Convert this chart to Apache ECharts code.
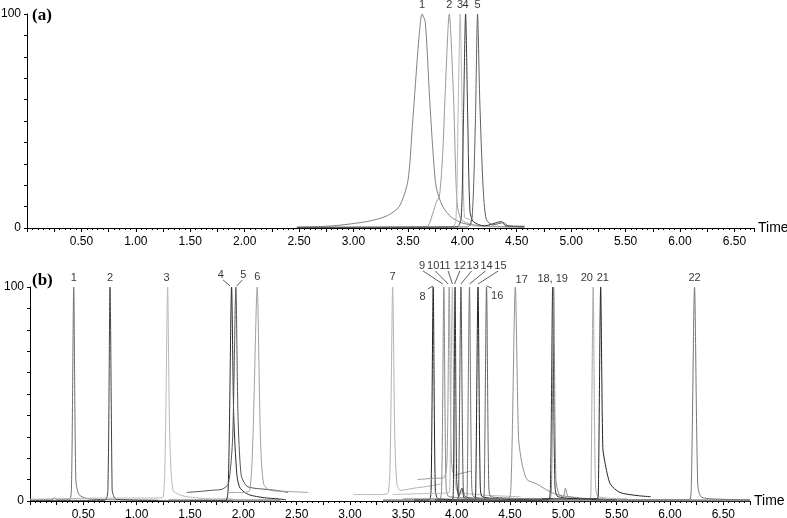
<!DOCTYPE html>
<html><head><meta charset="utf-8">
<script src="https://cdn.jsdelivr.net/npm/echarts@6/dist/echarts.min.js"></script>
<style>html,body{margin:0;padding:0;background:#fff}#c{width:787px;height:518px}</style>
</head><body><div id="c"></div><script>
// ---------- Panel (a) traces: [time (min), intensity (%)] ----------
const a1 = [[2.48,0.3],[2.81,1],[3.12,3],[3.30,5.5],[3.42,10],[3.50,22],[3.54,47],[3.60,88],[3.63,100],[3.66,96],[3.70,60],[3.73,36],[3.76,19],[3.82,10],[3.90,5],[4.00,2.3],[4.15,1],[4.40,0.6],[4.57,0.5]];
const a2 = [[2.48,0.3],[3.40,0.4],[3.67,0.5],[3.73,7],[3.76,12],[3.79,15],[3.82,35],[3.84,60],[3.88,100],[3.92,60],[3.95,13],[3.99,4],[4.10,1.5],[4.30,0.8],[4.57,0.5]];
const a3 = [[2.48,0.2],[3.90,0.4],[3.94,3],[3.96,50],[3.98,100],[4.00,50],[4.02,5],[4.07,4],[4.10,1],[4.57,0.3]];
const a4 = [[2.48,0.3],[3.95,0.5],[3.99,5],[4.01,50],[4.03,100],[4.05,50],[4.07,8],[4.10,3],[4.20,1],[4.36,3],[4.40,1],[4.57,0.8]];
const a5 = [[2.48,0.3],[4.05,0.5],[4.09,5],[4.12,50],[4.14,100],[4.16,60],[4.19,20],[4.22,4],[4.28,1.5],[4.38,2.5],[4.42,1],[4.57,0.5]];
const tracesA = [a1, a2, a3, a4, a5];
const colorsA = ['#808080', '#9a9a9a', '#b8b8b8', '#3a3a3a', '#606060'];
const labelsA = [[3.63,104,'1'],[3.88,104,'2'],[3.98,104,'3'],[4.03,104,'4'],[4.14,104,'5']];

// ---------- Panel (b) traces ----------
const bBase1 = [[1.30,0.3],[2.35,0.3]];
const bBase2 = [[3.31,0.3],[6.75,0.3]];
const b1 = [[0.00,0.5],[0.20,0.5],[0.23,1.3],[0.27,0.5],[0.37,0.5],[0.39,10],[0.41,100],[0.43,10],[0.46,3],[0.55,1],[0.90,0.5],[1.20,0.3],[1.90,0.2]];
const b2 = [[0.00,0.3],[0.70,0.3],[0.73,5],[0.75,100],[0.77,5],[0.78,3],[0.80,1],[0.90,0.5],[1.20,0.3]];
const b3 = [[0.00,0.8],[0.78,1.4],[1.20,1.4],[1.25,2],[1.27,30],[1.29,100],[1.31,30],[1.34,5],[1.40,3],[1.47,2],[1.70,1],[1.90,1]];
const b4 = [[1.50,0],[1.83,0],[1.86,10],[1.89,100],[1.91,40],[1.94,12],[1.97,6],[2.05,3],[2.20,1.5],[2.33,1],[2.40,0.5]];
const b5 = [[1.47,4],[1.60,4.5],[1.70,5],[1.80,5.5],[1.86,8],[1.90,30],[1.93,100],[1.95,40],[1.98,12],[2.03,7],[2.10,6],[2.20,5.5],[2.30,5],[2.42,4]];
const b6 = [[1.85,4],[2.00,4],[2.06,5],[2.09,30],[2.13,100],[2.16,30],[2.19,8],[2.25,5],[2.40,4.5],[2.61,4]];
const b7 = [[3.03,3],[3.30,3],[3.36,4],[3.38,30],[3.40,100],[3.42,30],[3.44,8],[3.47,5],[3.60,6],[3.75,7],[3.85,8]];
const b8 = [[3.60,0.5],[3.74,0.5],[3.76,5],[3.78,100],[3.80,5],[3.83,1],[4.50,0.5]];
const b9 = [[3.50,1],[3.84,1],[3.86,8],[3.88,100],[3.90,8],[3.93,2],[4.50,1]];
const b10 = [[3.63,10],[3.75,10.5],[3.88,11],[3.91,20],[3.93,100],[3.95,20],[3.98,12],[4.05,13],[4.14,14]];
const b11 = [[3.40,3],[3.70,3.5],[3.93,4],[3.94,20],[3.96,100],[3.98,20],[4.00,5],[4.20,3],[4.60,2]];
const b12 = [[3.80,0.5],[3.96,0.5],[3.97,10],[3.985,100],[4.00,10],[4.02,2],[4.05,6],[4.08,1],[4.60,0.5]];
const b13 = [[3.80,0.5],[4.01,0.5],[4.02,10],[4.04,100],[4.06,10],[4.08,2],[4.60,0.5]];
const b14 = [[3.90,0.5],[4.09,0.5],[4.10,10],[4.12,100],[4.14,10],[4.16,2],[4.70,0.5]];
const b15 = [[3.90,0.5],[4.17,0.5],[4.18,10],[4.20,100],[4.22,10],[4.24,2],[4.80,0.5]];
const b16 = [[3.95,0.5],[4.25,0.5],[4.26,10],[4.28,100],[4.30,10],[4.32,2],[4.90,1]];
const b17 = [[4.00,1],[4.48,1],[4.51,8],[4.55,100],[4.58,30],[4.61,18],[4.66,10],[4.75,8],[4.85,5],[4.94,3],[5.05,2],[5.15,1.5]];
const b18 = [[4.50,0.5],[4.86,0.5],[4.88,10],[4.90,100],[4.92,10],[4.95,2],[5.50,0.5]];
const b19 = [[4.50,1],[4.87,1],[4.89,10],[4.91,100],[4.93,10],[4.96,3],[5.00,2],[5.02,6],[5.05,2],[5.40,1]];
const b20 = [[4.90,0.5],[5.25,0.5],[5.26,10],[5.28,100],[5.30,10],[5.33,2],[5.60,1]];
const b21 = [[4.80,1],[5.32,1],[5.33,10],[5.35,100],[5.37,25],[5.39,18],[5.44,8],[5.53,4],[5.70,2.5],[5.82,2]];
const b22 = [[5.50,0.5],[6.18,0.5],[6.20,8],[6.23,100],[6.26,8],[6.29,2],[6.40,1],[6.75,0.5]];
const tracesB = [bBase1, bBase2, b1, b2, b3, b4, b5, b6, b7, b8, b9, b10, b11, b12, b13, b14, b15, b16, b17, b18, b19, b20, b21, b22];
const colorsB = ['#9a9a9a', '#909090', '#707070', '#444444', '#b8b8b8', '#2a2a2a', '#555555', '#a0a0a0', '#b4b4b4', '#222222', '#888888', '#9a9a9a', '#bbbbbb', '#333333', '#555555', '#777777', '#222222', '#666666', '#909090', '#333333', '#888888', '#aaaaaa', '#222222', '#777777'];
const labelsB = [[0.41,104,'1'],[0.75,104,'2'],[1.28,104,'3'],[1.79,105.6,'4'],[2.00,105.6,'5'],[2.13,104.7,'6'],[3.40,104.7,'7'],
  [3.68,95.3,'8'],[3.675,109.8,'9'],[3.78,109.8,'10'],[3.89,109.8,'11'],[4.03,109.8,'12'],[4.15,109.8,'13'],[4.28,109.8,'14'],[4.41,109.8,'15'],
  [4.38,95.8,'16'],[4.61,103.3,'17'],[4.90,103.7,'18, 19'],[5.22,104.2,'20'],[5.37,104.2,'21'],[6.23,104.2,'22']];
// leader lines: [t1, y1, t2, y2]
const leadersB = [[1.81,103.3,1.875,100.5],[1.99,103.3,1.94,100.5],[3.73,99.1,3.78,100.5],
  [3.684,107.5,3.87,101.4],[3.80,107.5,3.92,101.4],[3.92,107.5,3.96,101.4],[4.03,107.5,3.98,101.4],
  [4.14,107.5,4.04,101.4],[4.27,107.5,4.12,101.4],[4.39,107.5,4.20,101.4],[4.33,99.5,4.28,100.5]];

const xTicks = 0.25;
const FONT = 'Liberation Sans, Arial, sans-serif';

function xAxis(gi, max) {
  return {
    type: 'value', gridIndex: gi, min: 0, max: max, interval: xTicks,
    name: 'Time', nameLocation: 'end', nameGap: 4,
    nameTextStyle: {color: '#000', fontSize: 14, fontFamily: FONT, verticalAlign: 'middle'},
    axisLine: {show: true, onZero: false, lineStyle: {color: '#000', width: 1}},
    axisTick: {show: true, length: 4, lineStyle: {color: '#000'}},
    minorTick: {show: true, splitNumber: 5, length: 2, lineStyle: {color: '#000'}},
    splitLine: {show: false}, minorSplitLine: {show: false},
    axisLabel: {show: true, interval: 0, margin: 8, color: '#000', fontSize: 12, fontFamily: FONT, showMinLabel: true, showMaxLabel: false,
      formatter: v => (v > 0 && Math.abs(v * 2 - Math.round(v * 2)) < 1e-6) ? v.toFixed(2) : ''}
  };
}
function yAxis(gi) {
  return {
    type: 'value', gridIndex: gi, min: 0, max: 100, interval: 10,
    name: '%', nameLocation: 'middle', nameGap: 14, nameRotate: 90,
    nameTextStyle: {color: '#000', fontSize: 14, fontFamily: FONT},
    axisLine: {show: true, onZero: false, lineStyle: {color: '#000', width: 1}},
    axisTick: {show: true, length: 3, lineStyle: {color: '#000'}},
    splitLine: {show: false},
    axisLabel: {show: true, margin: 6, color: '#000', fontSize: 12, fontFamily: FONT,
      formatter: v => (v === 0 || v === 100) ? String(v) : ''}
  };
}

const series = [];
function addTraces(traces, colors, gi) {
  traces.forEach((d, i) => series.push({
    type: 'line', xAxisIndex: gi, yAxisIndex: gi, data: d, showSymbol: false, symbol: 'none',
    smooth: 0.25, clip: false, silent: true,
    lineStyle: {color: colors[i], width: (gi === 1 && i < 2) ? 2 : 1}
  }));
}
addTraces(tracesA, colorsA, 0);
addTraces(tracesB, colorsB, 1);
function addLabels(labels, gi) {
  series.push({
    type: 'scatter', xAxisIndex: gi, yAxisIndex: gi, data: labels, symbolSize: 1, clip: false, silent: true,
    itemStyle: {color: 'rgba(0,0,0,0)'}, z: 10,
    label: {show: true, position: 'inside', color: '#000', fontSize: 11, fontFamily: FONT, formatter: p => p.value[2]}
  });
}
addLabels(labelsA, 0);
addLabels(labelsB, 1);
const leaderData = [];
leadersB.forEach(l => { leaderData.push([l[0], l[1]], [l[2], l[3]], '-'); });
series.push({type: 'line', xAxisIndex: 1, yAxisIndex: 1, data: leaderData, showSymbol: false, symbol: 'none', clip: false, silent: true,
  connectNulls: false, lineStyle: {color: '#333', width: 0.8}});

const chart = echarts.init(document.getElementById('c'), null, {renderer: 'canvas'});
chart.setOption({
  animation: false,
  backgroundColor: '#fff',
  grid: [
    {left: 27, top: 14, width: 727, height: 214, containLabel: false, outerBoundsMode: 'none'},
    {left: 30, top: 287, width: 720, height: 214, containLabel: false, outerBoundsMode: 'none'}
  ],
  xAxis: [xAxis(0, 6.68), xAxis(1, 6.75)],
  yAxis: [yAxis(0), yAxis(1)],
  graphic: [
    {type: 'text', left: 32, top: 7, style: {text: '(a)', font: 'bold 17px "Liberation Serif", serif', fill: '#000'}},
    {type: 'text', left: 32, top: 272, style: {text: '(b)', font: 'bold 17px "Liberation Serif", serif', fill: '#000'}}
  ],
  series: series
});
</script></body></html>
